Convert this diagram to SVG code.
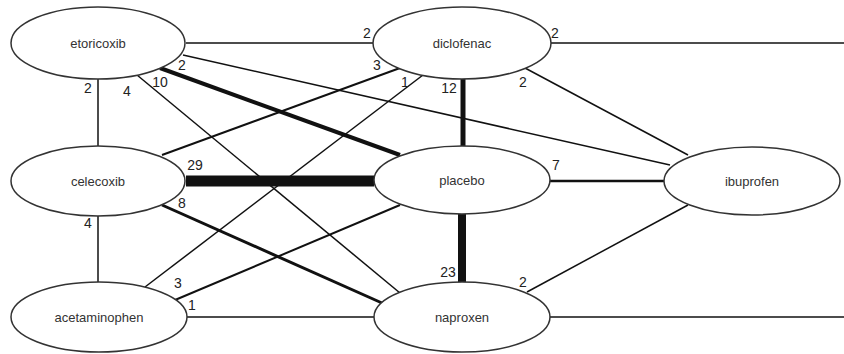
<svg xmlns="http://www.w3.org/2000/svg" width="844" height="354" viewBox="0 0 844 354">
<style>
.bg{fill:#ffffff}
.node ellipse{fill:#ffffff;stroke:#333333;stroke-width:1.5}
.node text{font-family:"Liberation Sans",Arial,sans-serif;font-size:13px;fill:#333333;text-anchor:middle}
.edges line{stroke:#111111;stroke-linecap:butt}
.w1{stroke-width:1.5}
.w2{stroke-width:2}
.w2b{stroke-width:2.5}
.w3{stroke-width:3}
.w4{stroke-width:4}
.w5{stroke-width:5}
.w8{stroke-width:8}
.w11{stroke-width:11}
.lbl text{font-family:"Liberation Sans",Arial,sans-serif;font-size:14px;fill:#222222;text-anchor:middle}
</style>
<rect class="bg" x="0" y="0" width="844" height="354"/>
<g id="connectors" class="edges">
  <line class="w1" x1="186" y1="43" x2="373" y2="43"/>
  <line class="w1" x1="551" y1="43" x2="844" y2="43"/>
  <line class="w1" x1="550" y1="317" x2="844" y2="317"/>
  <line class="w4" x1="160" y1="68" x2="400" y2="155"/>
  <line class="w1" x1="183" y1="55" x2="670" y2="165"/>
  <line class="w1" x1="137" y1="75" x2="400" y2="293"/>
  <line class="w1" x1="98" y1="79" x2="98" y2="146"/>
  <line class="w2" x1="400" y1="68" x2="162" y2="155"/>
  <line class="w1" x1="423" y1="75" x2="145" y2="287"/>
  <line class="w5" x1="463" y1="78" x2="463" y2="146"/>
  <line class="w1" x1="525" y1="68" x2="688" y2="155"/>
  <line class="w11" x1="186" y1="181" x2="374" y2="181"/>
  <line class="w3" x1="162" y1="205" x2="382" y2="303"/>
  <line class="w1" x1="98" y1="215" x2="98" y2="282"/>
  <line class="w2b" x1="549" y1="181" x2="664" y2="181"/>
  <line class="w8" x1="462" y1="214" x2="462" y2="283"/>
  <line class="w2" x1="400" y1="205" x2="175" y2="300"/>
  <line class="w1" x1="187" y1="317" x2="374" y2="317"/>
  <line class="w1" x1="527" y1="292" x2="688" y2="205"/>
</g>
<g id="node-etoricoxib" class="node"><ellipse cx="98" cy="43" rx="87" ry="36"/><text x="98" y="48">etoricoxib</text></g>
<g id="node-diclofenac" class="node"><ellipse cx="462" cy="43" rx="89" ry="36"/><text x="462" y="48">diclofenac</text></g>
<g id="node-celecoxib" class="node"><ellipse cx="98" cy="181" rx="87" ry="35"/><text x="98" y="186">celecoxib</text></g>
<g id="node-placebo" class="node"><ellipse cx="462" cy="180" rx="88" ry="34"/><text x="462" y="185">placebo</text></g>
<g id="node-ibuprofen" class="node"><ellipse cx="752" cy="181" rx="88" ry="34"/><text x="752" y="186">ibuprofen</text></g>
<g id="node-acetaminophen" class="node"><ellipse cx="99" cy="317" rx="88" ry="35"/><text x="99" y="322">acetaminophen</text></g>
<g id="node-naproxen" class="node"><ellipse cx="462" cy="317" rx="88" ry="35"/><text x="462" y="322">naproxen</text></g>
<g id="labels" class="lbl">
  <text x="367" y="38">2</text>
  <text x="555" y="38">2</text>
  <text x="182" y="70">2</text>
  <text x="160" y="87">10</text>
  <text x="88" y="93">2</text>
  <text x="127" y="96">4</text>
  <text x="377" y="70">3</text>
  <text x="405" y="87">1</text>
  <text x="449" y="93">12</text>
  <text x="523" y="87">2</text>
  <text x="195" y="170">29</text>
  <text x="182" y="208">8</text>
  <text x="88" y="228">4</text>
  <text x="556" y="170">7</text>
  <text x="448" y="277">23</text>
  <text x="523" y="287">2</text>
  <text x="178" y="288">3</text>
  <text x="192" y="310">1</text>
</g>
</svg>
